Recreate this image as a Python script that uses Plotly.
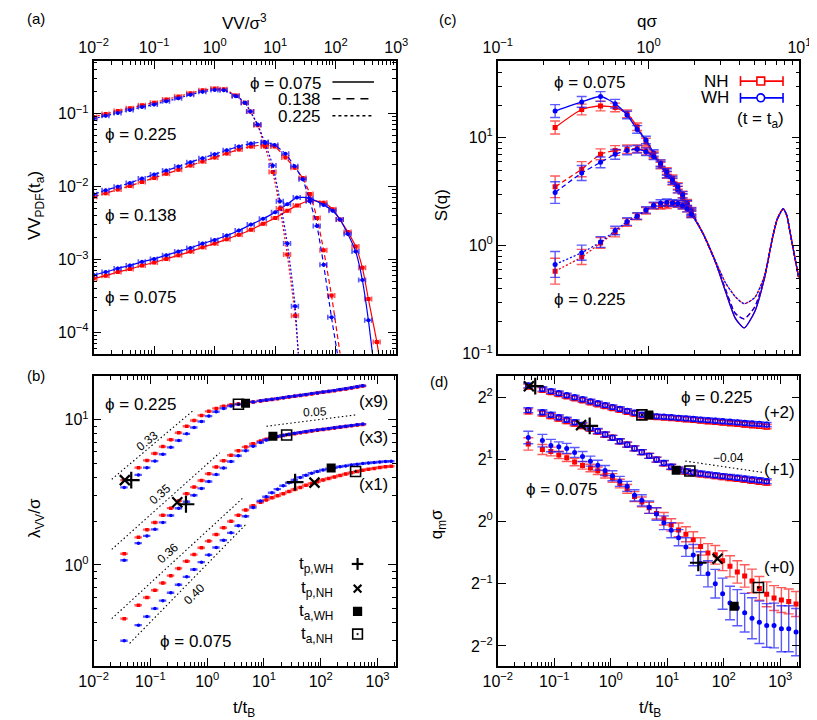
import math
import numpy as np
import plotly.graph_objects as go

W, H = 817, 720
FONT = "Liberation Sans, Arial, Helvetica, sans-serif"
RED, BLUE = "rgb(255,0,0)", "rgb(0,0,255)"
RED_E, BLUE_E = "rgba(255,20,20,0.7)", "rgba(20,20,255,0.7)"

# ---------------- panel (a): VV PDF (log10 values) ----------------
A_X_225 = [-2.0, -1.8, -1.6, -1.4, -1.2, -1.0, -0.8, -0.6, -0.4, -0.2, 0.0, 0.15, 0.35, 0.5, 0.59, 0.71, 0.83, 0.96, 1.08, 1.2, 1.33]
A_NH_225 = [-1.045, -1.005, -0.965, -0.925, -0.885, -0.85, -0.805, -0.765, -0.72, -0.68, -0.655, -0.665, -0.75, -0.85, -0.97, -1.16, -1.45, -1.80, -2.30, -2.93, -3.77]
A_WH_225 = [-1.07, -1.03, -0.99, -0.95, -0.91, -0.875, -0.83, -0.79, -0.74, -0.70, -0.675, -0.68, -0.76, -0.85, -0.97, -1.15, -1.40, -1.71, -2.20, -2.78, -3.64]
A_X_138 = [-2.0, -1.8, -1.6, -1.4, -1.2, -1.0, -0.8, -0.6, -0.4, -0.2, 0.0, 0.2, 0.4, 0.6, 0.83, 0.99, 1.17, 1.32, 1.455, 1.573, 1.69, 1.80, 1.93]
A_NH_138 = [-2.14, -2.09, -2.04, -1.99, -1.935, -1.88, -1.825, -1.77, -1.71, -1.655, -1.60, -1.545, -1.49, -1.45, -1.43, -1.45, -1.60, -1.74, -1.88, -2.10, -2.43, -2.87, -3.49]
A_WH_138 = [-2.105, -2.05, -2.0, -1.95, -1.89, -1.835, -1.78, -1.725, -1.665, -1.61, -1.555, -1.50, -1.45, -1.41, -1.39, -1.43, -1.55, -1.72, -1.90, -2.20, -2.54, -3.07, -3.79]
A_X_075 = [-2.0, -1.8, -1.6, -1.4, -1.2, -1.0, -0.8, -0.6, -0.4, -0.2, 0.0, 0.2, 0.4, 0.6, 0.8, 1.0, 1.2, 1.36, 1.57, 1.8, 1.95, 2.07, 2.2, 2.33, 2.44, 2.54, 2.68]
A_NH_075 = [-3.26, -3.22, -3.17, -3.13, -3.08, -3.04, -2.99, -2.94, -2.89, -2.83, -2.78, -2.72, -2.66, -2.59, -2.51, -2.43, -2.33, -2.26, -2.19, -2.22, -2.31, -2.45, -2.62, -2.82, -3.11, -3.54, -4.13]
A_WH_075 = [-3.21, -3.17, -3.12, -3.08, -3.03, -2.99, -2.94, -2.89, -2.84, -2.78, -2.73, -2.67, -2.60, -2.52, -2.44, -2.35, -2.24, -2.15, -2.16, -2.25, -2.33, -2.45, -2.65, -2.89, -3.28, -3.83]
# fitted-curve end points below the axis (log10 VV), order phi = 0.075, 0.138, 0.225
A_END_X_NH = [2.74, 2.10, 1.40]
A_END_X_WH = [2.63, 2.06, 1.39]
A_END_Y = -4.45

# ---------------- panel (c): S(q) ----------------
C_Q = [0.24, 0.36, 0.48, 0.60, 0.72, 0.84, 0.96, 1.08, 1.20, 1.32, 1.44, 1.56, 1.68, 1.80, 1.92]
C_NH_075 = [12.4, 18.2, 19.6, 19.0, 16.6, 12.6, 9.1, 7.0, 5.5, 4.5, 3.9, 3.3, 2.8, 2.4, 2.0]
C_WH_075 = [17.6, 21.4, 24.0, 20.6, 16.2, 11.9, 9.5, 7.2, 5.6, 4.55, 3.95, 3.3, 2.82, 2.42, 2.03]
C_NH_138 = [3.5, 5.1, 7.0, 7.6, 7.8, 7.9, 7.5, 6.8, 5.8, 4.9, 4.2, 3.56, 2.98, 2.5, 2.1]
C_WH_138 = [3.1, 4.7, 5.9, 7.0, 7.6, 7.8, 7.4, 6.7, 5.8, 4.8, 4.1, 3.5, 2.95, 2.45, 2.08]
C_NH_225 = [0.58, 0.785, 1.06, 1.32, 1.64, 1.86, 2.1, 2.33, 2.33, 2.36, 2.45, 2.42, 2.33, 2.2, 1.95]
C_WH_225 = [0.67, 0.86, 1.08, 1.38, 1.67, 1.88, 2.14, 2.36, 2.48, 2.52, 2.48, 2.45, 2.35, 2.2, 1.95]
C_ERR_075 = [0.06, 0.05, 0.045, 0.04, 0.035, 0.035, 0.035, 0.03, 0.03, 0.03, 0.03, 0.03, 0.03, 0.03, 0.03]
C_ERR_138 = [0.10, 0.07, 0.05, 0.045, 0.04, 0.035, 0.035, 0.03, 0.03, 0.03, 0.03, 0.03, 0.03, 0.03, 0.03]
C_ERR_225 = [0.12, 0.07, 0.05, 0.04, 0.035, 0.03, 0.03, 0.03, 0.03, 0.03, 0.03, 0.03, 0.03, 0.03, 0.03]
# high-q continuation of the curves
C_Q_HI = [2.3, 2.8, 3.24, 3.76, 4.3, 5.05, 5.85, 6.6, 7.13, 7.8, 8.26, 8.67, 9.87]
C_HI_075 = [1.28, 0.68, 0.373, 0.212, 0.173, 0.244, 0.494, 1.15, 1.76, 2.19, 1.88, 1.32, 0.51]
C_HI_138 = [1.28, 0.68, 0.39, 0.235, 0.21, 0.27, 0.50, 1.15, 1.76, 2.19, 1.88, 1.32, 0.51]
C_HI_225 = [1.30, 0.70, 0.45, 0.336, 0.29, 0.33, 0.52, 1.15, 1.76, 2.19, 1.88, 1.32, 0.51]

# ---------------- panel (b): lambda_VV (log10 t/tB, log10 lambda) ----------------
B_T = [-1.46, -1.21, -1.06, -0.92, -0.78, -0.64, -0.50, -0.36, -0.23, -0.10, 0.03, 0.16, 0.29, 0.42, 0.55, 0.68, 0.81, 0.94,
       1.04, 1.14, 1.24, 1.34, 1.44, 1.54, 1.64, 1.74, 1.84, 1.94, 2.04, 2.14, 2.24, 2.34, 2.44, 2.54, 2.64, 2.74,
       2.84, 2.94, 3.04, 3.14, 3.24]
B_NH_075 = [-0.37, -0.278, -0.224, -0.174, -0.124, -0.074, -0.024, 0.025, 0.071, 0.118, 0.164, 0.21, 0.256, 0.30, 0.343, 0.378, 0.408, 0.432,
            0.448, 0.462, 0.476, 0.491, 0.505, 0.52, 0.534, 0.548, 0.561, 0.573, 0.585, 0.596, 0.606, 0.616, 0.626, 0.635, 0.644, 0.652,
            0.659, 0.665, 0.671, 0.676, 0.68]
B_WH_075 = [-0.522, -0.415, -0.356, -0.301, -0.246, -0.192, -0.137, -0.082, -0.032, 0.019, 0.069, 0.12, 0.17, 0.221, 0.27, 0.335, 0.395, 0.44,
            0.47, 0.497, 0.522, 0.545, 0.566, 0.586, 0.603, 0.618, 0.632, 0.644, 0.654, 0.662, 0.669, 0.676, 0.682, 0.688, 0.693, 0.698,
            0.702, 0.706, 0.709, 0.712, 0.714]
B_NH_138 = [0.077, 0.19, 0.243, 0.292, 0.342, 0.391, 0.441, 0.49, 0.536, 0.582, 0.628, 0.675, 0.718, 0.755, 0.787, 0.813, 0.835, 0.853,
            0.865, 0.876, 0.884, 0.891, 0.898, 0.904, 0.91, 0.916, 0.922, 0.928, 0.933, 0.938, 0.943, 0.948, 0.953, 0.958, 0.963, 0.968]
B_WH_138 = [0.032, 0.15, 0.2, 0.245, 0.293, 0.34, 0.39, 0.435, 0.48, 0.527, 0.575, 0.622, 0.668, 0.712, 0.752, 0.787, 0.818, 0.843,
            0.86, 0.874, 0.885, 0.893, 0.9, 0.907, 0.913, 0.919, 0.925, 0.93, 0.935, 0.94, 0.945, 0.95, 0.955, 0.96, 0.965, 0.97]
B_NH_225 = [0.584, 0.67, 0.72, 0.767, 0.815, 0.862, 0.91, 0.955, 0.995, 1.03, 1.058, 1.078, 1.093, 1.102, 1.108, 1.115, 1.122, 1.129,
            1.134, 1.14, 1.145, 1.151, 1.156, 1.162, 1.167, 1.173, 1.178, 1.184, 1.189, 1.195, 1.20, 1.206, 1.212, 1.218, 1.225, 1.232]
B_WH_225 = [0.534, 0.62, 0.67, 0.715, 0.762, 0.81, 0.857, 0.903, 0.947, 0.988, 1.025, 1.055, 1.078, 1.095, 1.106, 1.115, 1.123, 1.13,
            1.136, 1.141, 1.147, 1.152, 1.158, 1.163, 1.169, 1.174, 1.18, 1.185, 1.191, 1.196, 1.202, 1.208, 1.214, 1.22, 1.227, 1.234]
# guide power laws: (log10 t start, log10 t end, log10 lambda start, exponent)
B_GUIDES = [(-1.68, -0.26, 0.59, 0.33), (-1.68, 0.22, 0.107, 0.35), (-1.68, 0.62, -0.37, 0.36), (-1.365, 0.676, -0.54, 0.40), (1.044, 2.63, 0.955, 0.05)]

# characteristic times (log10 t/tB), order phi = 0.225, 0.138, 0.075
TP_WH = [-1.337, -0.373, 1.549]
TP_NH = [-1.45, -0.526, 1.89]
TA_WH = [0.676, 1.158, 2.184]
TA_NH = [0.551, 1.40, 2.614]
B_TP_WH = [0.584, 0.418, 0.571]
B_TP_NH = [0.584, 0.432, 0.567]
B_TA_WH = [1.114, 0.886, 0.667]
B_TA_NH = [1.107, 0.895, 0.644]

# ---------------- panel (d): q_m (log10 t/tB, log2 q_m sigma) ----------------
D_T = [-1.46, -1.21, -1.06, -0.92, -0.78, -0.64, -0.50, -0.36, -0.23, -0.10, 0.03, 0.16, 0.29, 0.42, 0.55, 0.68, 0.81, 0.94,
       1.07, 1.20, 1.33, 1.46, 1.59, 1.72, 1.85, 1.98, 2.11, 2.24, 2.37, 2.50, 2.63, 2.76, 2.89, 3.02, 3.15, 3.28]
D_WH_225 = [2.186, 2.13, 2.095, 2.062, 2.029, 1.996, 1.964, 1.931, 1.90, 1.87, 1.839, 1.809, 1.778, 1.748, 1.717, 1.70, 1.69, 1.683,
            1.675, 1.666, 1.657, 1.648, 1.638, 1.629, 1.62, 1.611, 1.602, 1.593, 1.584, 1.575, 1.566, 1.557]
D_NH_225 = [2.17, 2.115, 2.08, 2.047, 2.014, 1.981, 1.949, 1.916, 1.885, 1.855, 1.825, 1.795, 1.765, 1.735, 1.705, 1.69, 1.68, 1.672,
            1.663, 1.653, 1.643, 1.633, 1.622, 1.611, 1.601, 1.591, 1.58, 1.57, 1.559, 1.548, 1.537, 1.525]
D_WH_138 = [1.79, 1.755, 1.715, 1.675, 1.635, 1.595, 1.55, 1.50, 1.455, 1.40, 1.345, 1.29, 1.235, 1.175, 1.115, 1.055, 0.995, 0.94,
            0.88, 0.835, 0.81, 0.79, 0.772, 0.757, 0.743, 0.73, 0.717, 0.703, 0.69, 0.676, 0.662, 0.648]
D_NH_138 = [1.77, 1.735, 1.695, 1.655, 1.615, 1.575, 1.535, 1.49, 1.445, 1.395, 1.345, 1.29, 1.235, 1.175, 1.115, 1.055, 0.995, 0.935,
            0.875, 0.83, 0.80, 0.78, 0.76, 0.745, 0.73, 0.715, 0.70, 0.685, 0.67, 0.655, 0.64, 0.625]
D_WH_075 = [1.35, 1.30, 1.22, 1.20, 1.175, 1.11, 1.045, 0.97, 0.905, 0.82, 0.735, 0.645, 0.565, 0.42, 0.34, 0.23, 0.12, -0.02,
            -0.14, -0.26, -0.41, -0.54, -0.675, -0.84, -1.0, -1.16, -1.31, -1.385, -1.465, -1.555, -1.62, -1.67, -1.671, -1.724, -1.724, -1.777]
D_NH_075 = [1.247, 1.157, 1.125, 1.07, 1.024, 0.955, 0.902, 0.86, 0.815, 0.76, 0.70, 0.61, 0.525, 0.40, 0.315, 0.22, 0.13, 0.045,
            -0.055, -0.135, -0.205, -0.295, -0.40, -0.505, -0.535, -0.63, -0.72, -0.81, -0.875, -0.955, -1.075, -1.17, -1.231, -1.263, -1.284, -1.326]
D_ERR_WH_075 = [0.1, 0.1, 0.1, 0.08, 0.08, 0.08, 0.08, 0.08, 0.08, 0.08, 0.08, 0.08, 0.08, 0.09, 0.09, 0.1, 0.1, 0.11,
                0.12, 0.13, 0.15, 0.17, 0.19, 0.21, 0.23, 0.25, 0.27, 0.29, 0.31, 0.33, 0.34, 0.35, 0.36, 0.37, 0.37, 0.38]
D_ERR_NH_075 = [0.1, 0.08, 0.07, 0.06, 0.06, 0.06, 0.06, 0.06, 0.06, 0.06, 0.07, 0.07, 0.07, 0.08, 0.08, 0.09, 0.09, 0.1,
                0.1, 0.11, 0.12, 0.13, 0.14, 0.15, 0.15, 0.16, 0.17, 0.18, 0.18, 0.19, 0.19, 0.2, 0.2, 0.2, 0.2, 0.2]
D_ERR_138 = 0.04
D_ERR_225 = 0.035
D_GUIDE = (1.32, 2.715, 0.971, -0.04)  # log10 t0, log10 t1, log2 q0, exponent
D_TP_WH = [2.175, 1.538, -0.663]
D_TP_NH = [2.175, 1.549, -0.60]
D_TA_WH = [1.713, 0.822, -1.363]
D_TA_NH = [1.713, 0.812, -1.06]

# =====================================================================
fig = go.Figure()


def p10(v):
    return 10 ** np.asarray(v, dtype=float)


def err_log(y, e, base=10.0):
    y = np.asarray(y, dtype=float)
    e = np.asarray(e, dtype=float) * np.ones_like(y)
    return y * (base ** e - 1), y * (1 - base ** (-e))


def marks(xa, ya, x, y, color, symbol, size, error_x=None, error_y=None, lw=0):
    tr = go.Scatter(x=x, y=y, mode="markers", xaxis=xa, yaxis=ya, showlegend=False, hoverinfo="skip",
                    marker=dict(symbol=symbol, size=size, color=color, line=dict(width=lw, color=color)))
    if error_x is not None:
        tr.error_x = error_x
    if error_y is not None:
        tr.error_y = error_y
    fig.add_trace(tr)


def curve(xa, ya, x, y, color, dash, width=1.3, shape="spline"):
    fig.add_trace(go.Scatter(x=x, y=y, mode="lines", xaxis=xa, yaxis=ya, showlegend=False, hoverinfo="skip",
                             line=dict(color=color, dash=dash, width=width, shape=shape, smoothing=0.6)))


DASH = {"075": "solid", "138": "5px,3px", "225": "2px,2px"}

# ---- (a) ----
a_sets = [
    ("075", A_X_075, A_NH_075, A_WH_075, 0),
    ("138", A_X_138, A_NH_138, A_WH_138, 1),
    ("225", A_X_225, A_NH_225, A_WH_225, 2),
]
for key, xs, nh, wh, i in a_sets:
    for vals, col, ecol, sym, endx in ((nh, RED, RED_E, "square", A_END_X_NH[i]), (wh, BLUE, BLUE_E, "circle", A_END_X_WH[i])):
        xx = p10(xs[:len(vals)])
        yy = p10(vals)
        curve("x", "y", np.append(xx, 10 ** endx), np.append(yy, 10 ** A_END_Y), col, DASH[key], 1.2)
        marks("x", "y", xx, yy, col, sym, 4,
              error_x=dict(type="percent", value=13, color=ecol, thickness=1.6, width=2.5),
              error_y=dict(type="percent", value=6, color=ecol, thickness=1.2, width=0))

# ---- (c) ----
c_sets = [
    ("075", C_NH_075, C_WH_075, C_ERR_075, C_HI_075),
    ("138", C_NH_138, C_WH_138, C_ERR_138, C_HI_138),
    ("225", C_NH_225, C_WH_225, C_ERR_225, C_HI_225),
]
for key, nh, wh, er, hi in c_sets:
    for vals, col, ecol, sym in ((nh, RED, RED_E, "square"), (wh, BLUE, BLUE_E, "circle")):
        curve("x2", "y2", list(C_Q) + list(C_Q_HI), list(vals) + list(hi), col, DASH[key], 1.3)
        up, dn = err_log(vals, er)
        marks("x2", "y2", C_Q, vals, col, sym, 5,
              error_y=dict(type="data", array=up, arrayminus=dn, color=ecol, thickness=1.4, width=5))

# ---- (b) ----
for nh, wh in ((B_NH_075, B_WH_075), (B_NH_138, B_WH_138), (B_NH_225, B_WH_225)):
    for vals, col, ecol, sym in ((nh, RED, RED_E, "square"), (wh, BLUE, BLUE_E, "circle")):
        marks("x3", "y3", p10(B_T[:len(vals)]), p10(vals), col, sym, 3.5,
              error_x=dict(type="percent", value=15, color=ecol, thickness=2.4, width=0),
              error_y=dict(type="percent", value=2, color=ecol, thickness=1, width=0))
for t0, t1, l0, s in B_GUIDES:
    tt = np.array([t0, t1])
    curve("x3", "y3", p10(tt), p10(l0 + s * (tt - t0)), "black", "1.5px,2.5px", 1.1, "linear")
marks("x3", "y3", p10(TP_WH), p10(B_TP_WH), "black", "cross-thin", 12, lw=2.2)
marks("x3", "y3", p10(TP_NH), p10(B_TP_NH), "black", "x-thin", 10, lw=2.2)
marks("x3", "y3", p10(TA_WH), p10(B_TA_WH), "black", "square", 9)
marks("x3", "y3", p10(TA_NH), p10(B_TA_NH), "black", "square-open-dot", 10, lw=1.6)

# ---- (d) ----
d_sets = [
    (D_NH_075, D_WH_075, D_ERR_NH_075, D_ERR_WH_075, False),
    (D_NH_138, D_WH_138, D_ERR_138, D_ERR_138, True),
    (D_NH_225, D_WH_225, D_ERR_225, D_ERR_225, True),
]
for nh, wh, enh, ewh, hollow in d_sets:
    for vals, er, col, ecol, sym in ((nh, enh, RED, RED_E, "square"), (wh, ewh, BLUE, BLUE_E, "circle")):
        yy = 2.0 ** np.asarray(vals)
        up, dn = err_log(yy, er, base=2.0)
        marks("x4", "y4", p10(D_T[:len(vals)]), yy, col, sym + ("-open" if hollow else ""), 5,
              error_y=dict(type="data", array=up, arrayminus=dn, color=ecol, thickness=1.4, width=5),
              lw=1.4 if hollow else 0)
t0, t1, q0, s = D_GUIDE
tt = np.array([t0, t1])
curve("x4", "y4", p10(tt), 2.0 ** (q0 + s * (tt - t0) * np.log2(10)), "black", "1.5px,2.5px", 1.1, "linear")
marks("x4", "y4", p10(TP_WH), 2.0 ** np.array(D_TP_WH), "black", "cross-thin", 12, lw=2.2)
marks("x4", "y4", p10(TP_NH), 2.0 ** np.array(D_TP_NH), "black", "x-thin", 10, lw=2.2)
marks("x4", "y4", p10(TA_WH), 2.0 ** np.array(D_TA_WH), "black", "square", 9)
marks("x4", "y4", p10(TA_NH), 2.0 ** np.array(D_TA_NH), "black", "square-open-dot", 10, lw=1.6)


# ---------------- axes ----------------
def decade_ticks(lo, hi):
    ks = list(range(math.ceil(lo - 1e-9), math.floor(hi + 1e-9) + 1))
    vals = [10.0 ** k for k in ks]
    text = ["10<sup>%s</sup>" % (str(k).replace("-", "\u2212")) for k in ks]
    minor = []
    for k in range(math.floor(lo), math.ceil(hi) + 1):
        for m in range(2, 10):
            v = m * 10.0 ** k
            if lo <= math.log10(v) <= hi:
                minor.append(v)
    return vals, text, minor


def ax(rng, minor=True, **kw):
    vals, text, mnr = decade_ticks(*rng)
    d = dict(type="log", range=list(rng), showline=True, linecolor="black", linewidth=1.6, mirror="ticks",
             ticks="inside", ticklen=8, tickwidth=1.2, tickcolor="black", showgrid=False, zeroline=False,
             tickmode="array", tickvals=vals, ticktext=text,
             tickfont=dict(family=FONT, size=16, color="black"))
    if minor:
        d["minor"] = dict(tickmode="array", tickvals=mnr, ticks="inside", ticklen=4, tickwidth=1,
                          tickcolor="black", showgrid=False)
    d.update(kw)
    return d


XL = [73 / W, 386 / W]
XR = [491 / W, 803 / W]
YT = [1 - 350 / H, 1 - 54 / H]
YB = [1 - 666 / H, 1 - 373 / H]

fig.update_layout(
    width=W, height=H, margin=dict(l=0, r=0, t=0, b=0),
    plot_bgcolor="white", paper_bgcolor="white", showlegend=False,
    font=dict(family=FONT, size=16, color="black"),
    xaxis=ax((-2, 3), domain=XL, side="top", anchor="y"),
    yaxis=ax((-4.288, -0.283), domain=YT, anchor="x"),
    xaxis2=ax((-1, 1), domain=XR, side="top", anchor="y2"),
    yaxis2=ax((-1, 1.706), domain=YT, anchor="x2"),
    xaxis3=ax((-2, 3.33), domain=XL, anchor="y3"),
    yaxis3=ax((-0.694, 1.299), domain=YB, anchor="x3"),
    xaxis4=ax((-2, 3.34), domain=XR, anchor="y4"),
    yaxis4=ax((-0.6975, 0.7023), minor=False, domain=YB, anchor="x4",
              tickvals=[0.25, 0.5, 1, 2, 4],
              ticktext=["2<sup>\u22122</sup>", "2<sup>\u22121</sup>", "2<sup>0</sup>", "2<sup>1</sup>", "2<sup>2</sup>"]),
)

# ---------------- text and keys ----------------
ann, shp = [], []


def T(x, y, text, size=16, xa="center", angle=0):
    ann.append(dict(x=x / W, y=1 - y / H, xref="paper", yref="paper", text=text, showarrow=False,
                    xanchor=xa, yanchor="middle", textangle=angle,
                    font=dict(family=FONT, size=size, color="black")))


def L(x0, y0, x1, y1, color="black", width=1.5, dash="solid"):
    shp.append(dict(type="line", xref="paper", yref="paper", x0=x0 / W, y0=1 - y0 / H, x1=x1 / W, y1=1 - y1 / H,
                    line=dict(color=color, width=width, dash=dash)))


def R(x0, y0, x1, y1, color="black", fill="black", width=1.5, kind="rect"):
    shp.append(dict(type=kind, xref="paper", yref="paper", x0=x0 / W, y0=1 - y1 / H, x1=x1 / W, y1=1 - y0 / H,
                    line=dict(color=color, width=width), fillcolor=fill))


PHI = "\u03d5"
# panel letters and axis titles
T(13, 11, "(a)", 15); T(440, 12, "(c)", 15); T(13, 372, "(b)", 15); T(430, 378, "(d)", 15)
T(229, 14, "VV/\u03c3<sup>3</sup>", 17)
T(645, 14, "q\u03c3", 17)
T(229, 710, "t/t<sub>B</sub>", 17)
T(648, 710, "t/t<sub>B</sub>", 17)
T(13, 200, "VV<sub>PDF</sub>(t<sub>a</sub>)", 17, angle=-90)
T(433, 200, "S(q)", 17, angle=-90)
T(13, 517, "\u03bb<sub>VV</sub>/\u03c3", 17, angle=-90)
T(430, 523, "q<sub>m</sub>\u03c3", 17, angle=-90)

# (a)
T(83, 128, PHI + " = 0.225", 17, "left"); T(83, 210, PHI + " = 0.138", 17, "left"); T(83, 293, PHI + " = 0.075", 17, "left")
T(310, 76, PHI + " = 0.075", 17, "right"); T(310, 93, "0.138", 17, "right"); T(310, 110, "0.225", 17, "right")
L(320, 75, 363, 75); L(320, 92, 363, 92, dash="8px,6px"); L(320, 109, 363, 109, dash="3px,3px")

# (c)
T(547, 75, PHI + " = 0.075", 17, "left"); T(547, 295, PHI + " = 0.225", 17, "left")
T(732, 74, "NH", 17, "right"); T(732, 91, "WH", 17, "right"); T(789, 113, "(t = t<sub>a</sub>)", 17, "right")
for yy, col, kind in ((74, RED, "rect"), (91, BLUE, "circle")):
    L(742, yy, 786, yy, col, 1.6)
    L(742, yy - 5, 742, yy + 5, col, 1.6)
    L(786, yy - 5, 786, yy + 5, col, 1.6)
    R(759, yy - 4, 767, yy + 4, col, "white", 1.6, kind)

# (b)
T(83, 402, PHI + " = 0.225", 17, "left"); T(140, 642, PHI + " = 0.075", 17, "left")
T(362, 398, "(x9)", 17); T(362, 435, "(x3)", 17); T(362, 483, "(x1)", 17)
T(128, 438, "0.33", 12, angle=-39); T(142, 492, "0.35", 12, angle=-41); T(150, 552, "0.36", 12, angle=-42)
T(177, 593, "0.40", 12, angle=-45); T(302, 409, "0.05", 12, angle=-3)
T(323, 564, "t<sub>p,WH</sub>", 17, "right"); T(323, 588, "t<sub>p,NH</sub>", 17, "right")
T(323, 612, "t<sub>a,WH</sub>", 17, "right"); T(323, 635, "t<sub>a,NH</sub>", 17, "right")
L(340, 563, 352, 563, width=2.2); L(346, 557, 346, 569, width=2.2)
L(342, 584, 350, 592, width=2.2); L(342, 592, 350, 584, width=2.2)
R(342, 607, 350, 615)
R(341, 629, 351, 639, fill="white", width=1.6)
R(345.3, 633.3, 346.7, 634.7, width=0.5)

# (d)
T(678, 394, PHI + " = 0.225", 17, "left"); T(518, 488, PHI + " = 0.075", 17, "left")
T(782, 410, "(+2)", 17); T(782, 467, "(+1)", 17); T(782, 567, "(+0)", 17)
T(730, 456, "\u22120.04", 12)

fig.update_layout(annotations=ann, shapes=shp)
fig.write_html("out.html")
